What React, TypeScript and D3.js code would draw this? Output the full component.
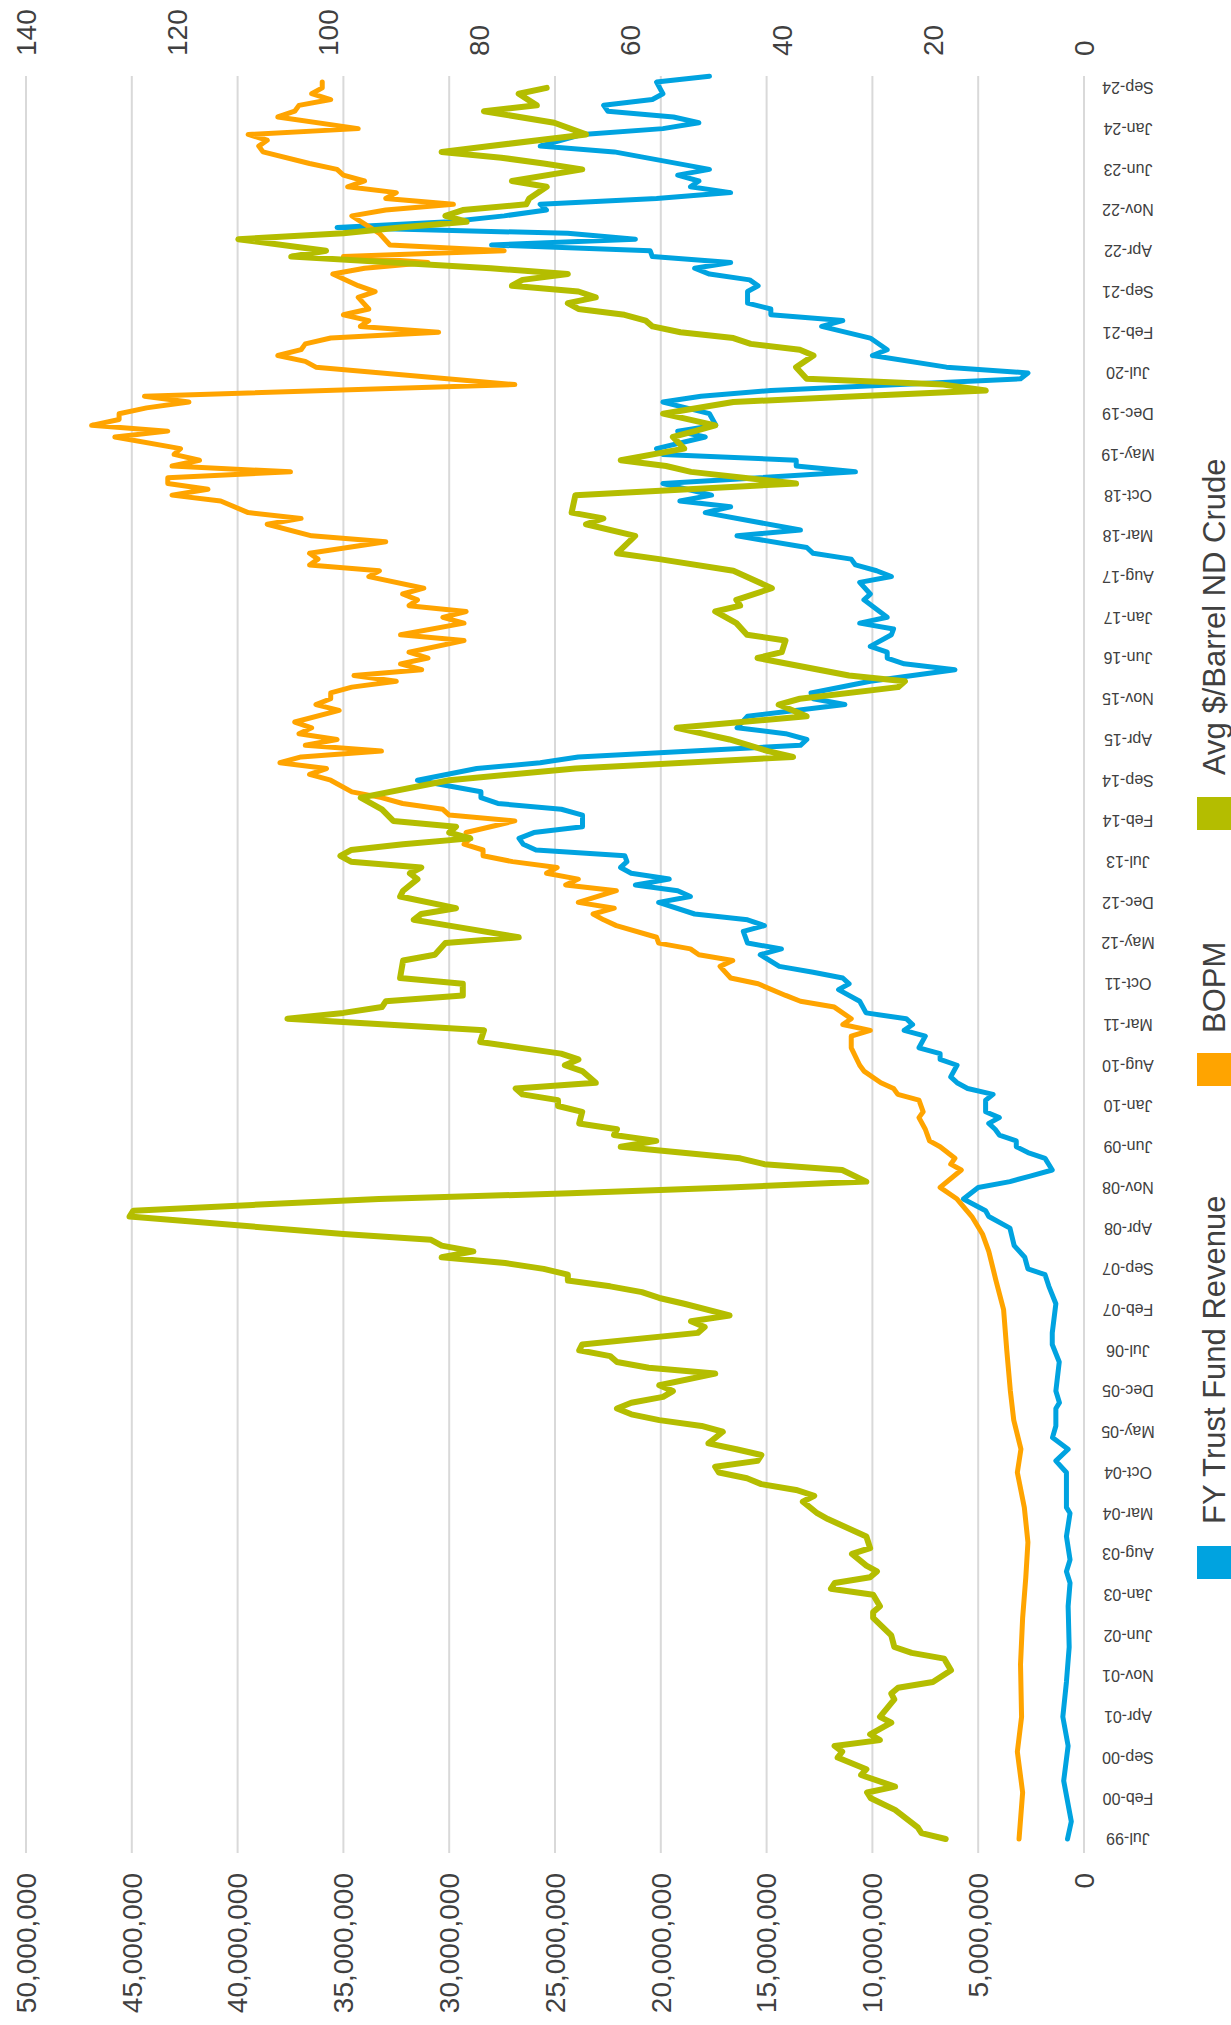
import React from "react";
import * as d3 from "d3";

// month labels shown on the (vertical) time axis, one every 7 months
const dateLabels = [
  "Jul-99", "Feb-00", "Sep-00", "Apr-01", "Nov-01", "Jun-02", "Jan-03", "Aug-03",
  "Mar-04", "Oct-04", "May-05", "Dec-05", "Jul-06", "Feb-07", "Sep-07", "Apr-08",
  "Nov-08", "Jun-09", "Jan-10", "Aug-10", "Mar-11", "Oct-11", "May-12", "Dec-12",
  "Jul-13", "Feb-14", "Sep-14", "Apr-15", "Nov-15", "Jun-16", "Jan-17", "Aug-17",
  "Mar-18", "Oct-18", "May-19", "Dec-19", "Jul-20", "Feb-21", "Sep-21", "Apr-22",
  "Nov-22", "Jun-23", "Jan-24", "Sep-24",
];
const labelEvery = 7;

// [month index from Jul-99, value in millions of $]
const revenueM: [number, number][] = [
  [0, 0.78], [3, 0.6], [10, 0.96], [16, 0.75], [21, 1.0], [27, 0.83], [33, 0.7], [40, 0.75],
  [44, 0.66], [46, 0.83], [48, 0.66], [52, 0.83], [56, 0.66], [57, 0.83], [63, 0.83], [65, 1.33],
  [67, 0.75], [69, 1.49], [71, 1.33], [74, 1.33], [75, 1.16], [77, 1.33], [82, 1.17], [85, 1.5],
  [87, 1.5], [92, 1.33], [95, 1.66], [97, 1.84], [98, 2.65], [100, 2.8], [102, 3.3], [105, 3.5],
  [107, 4.5], [108, 4.65], [110, 5.7], [112, 5.0], [113, 3.5], [114, 2.5], [115, 1.5], [117, 1.84],
  [118, 2.65], [119, 3.2], [120, 3.2], [121, 4.0], [122, 4.2], [123, 4.5], [124, 4.0], [125, 4.65],
  [127, 4.65], [128, 4.3], [129, 5.5], [130, 6.0], [131, 6.3], [133, 6.0], [134, 6.8], [135, 6.8],
  [136, 7.8], [138, 7.5], [139, 8.5], [140, 8.1], [141, 8.4], [142, 10.3], [144, 10.6], [146, 11.6],
  [147, 11.1], [148, 11.4], [149, 12.8], [150, 14.4], [152, 15.3], [153, 14.3], [154, 15.9], [156, 16.1],
  [157, 15.1], [158, 15.9], [159, 18.4], [161, 20.1], [162, 18.6], [163, 19.2], [164, 21.2], [165, 19.6],
  [166, 21.4], [167, 21.9], [168, 21.6], [169, 21.7], [170, 25.9], [171, 26.5], [172, 26.7], [173, 26.0],
  [174, 23.7], [176, 23.7], [177, 24.7], [178, 27.7], [179, 28.5], [180, 28.5], [182, 31.5], [184, 28.7],
  [185, 25.7], [186, 23.9], [188, 13.4], [189, 13.1], [190, 14.1], [191, 16.4], [193, 15.9], [195, 11.3],
  [196, 12.8], [197, 12.9], [199, 10.1], [201, 6.1], [202, 8.5], [203, 9.3], [204, 9.3], [205, 10.1],
  [207, 9.1], [208, 9.0], [209, 10.6], [210, 9.3], [213, 10.4], [214, 10.1], [216, 10.6], [217, 9.1],
  [218, 9.8], [219, 10.8], [220, 11.0], [221, 12.8], [222, 13.1], [224, 16.4], [225, 13.4], [228, 17.9],
  [229, 16.7], [230, 19.1], [231, 17.6], [233, 19.9], [235, 10.8], [236, 13.6], [237, 13.6], [238, 19.9],
  [239, 20.2], [241, 17.9], [242, 19.2], [243, 17.4], [245, 17.7], [247, 19.9], [248, 18.1], [249, 14.8],
  [251, 3.0], [252, 2.65], [253, 6.5], [255, 10.0], [256, 9.3], [258, 10.1], [260, 12.4], [261, 11.4],
  [262, 14.8], [263, 14.8], [264, 15.9], [266, 15.9], [267, 15.4], [268, 15.8], [269, 17.7], [270, 18.4],
  [271, 16.7], [272, 20.4], [273, 20.5], [274, 28.0], [275, 21.2], [276, 24.4], [277, 35.3], [278, 30.0],
  [279, 27.4], [280, 25.4], [281, 25.7], [282, 20.2], [283, 16.7], [284, 18.6], [285, 18.2], [286, 19.2],
  [287, 17.7], [290, 22.2], [291, 25.7], [293, 23.7], [294, 19.9], [295, 18.2], [296, 19.4], [297, 22.5],
  [298, 22.7], [299, 20.4], [300, 19.9], [302, 20.2], [303, 17.7],
];

// [month index, barrels per month in millions]
const bopmM: [number, number][] = [
  [0, 3.07], [8, 2.9], [15, 3.15], [21, 2.95], [30, 3.0], [38, 2.9], [45, 2.75], [51, 2.65],
  [57, 2.82], [63, 3.15], [67, 2.98], [72, 3.32], [77, 3.48], [84, 3.65], [91, 3.8], [96, 4.16],
  [101, 4.5], [104, 4.8], [107, 5.3], [110, 6.0], [112, 6.8], [115, 5.8], [116, 6.3], [117, 6.1],
  [119, 6.8], [120, 7.3], [122, 7.5], [124, 7.8], [125, 7.6], [127, 7.8], [128, 8.8], [129, 9.0],
  [130, 9.6], [132, 10.4], [133, 10.6], [136, 11.0], [138, 11.0], [139, 10.1], [140, 11.4], [141, 11.0],
  [143, 11.8], [144, 13.4], [145, 14.1], [147, 15.4], [148, 16.7], [150, 17.2], [151, 16.6], [152, 18.2],
  [153, 18.6], [154, 20.1], [155, 20.2], [157, 22.1], [158, 22.7], [159, 23.2], [160, 22.2], [161, 23.9],
  [163, 22.1], [164, 24.5], [165, 23.9], [166, 25.4], [167, 24.9], [168, 27.0], [169, 28.4], [170, 28.4],
  [171, 29.3], [172, 29.0], [173, 29.2], [175, 26.9], [176, 30.0], [177, 30.3], [178, 32.2], [179, 33.2],
  [180, 34.6], [182, 35.6], [183, 36.6], [184, 35.8], [185, 38.0], [186, 37.0], [187, 33.2], [188, 36.8],
  [189, 35.3], [190, 37.1], [191, 36.5], [192, 37.3], [194, 35.2], [195, 36.3], [196, 35.6], [197, 35.6],
  [198, 34.6], [199, 32.5], [200, 34.5], [201, 31.3], [202, 32.3], [203, 31.0], [204, 31.9], [206, 29.3],
  [207, 32.3], [209, 29.3], [210, 30.3], [211, 29.2], [212, 31.9], [213, 31.5], [214, 32.2], [215, 31.2],
  [217, 33.8], [218, 33.3], [219, 36.6], [220, 36.2], [221, 36.6], [223, 33.0], [224, 36.5], [226, 38.6],
  [227, 37.0], [228, 39.5], [230, 40.8], [231, 43.1], [232, 41.4], [233, 43.3], [234, 43.3], [235, 37.5],
  [236, 43.1], [237, 41.8], [238, 43.0], [239, 42.7], [241, 45.8], [242, 43.3], [243, 46.9], [244, 45.6],
  [245, 45.6], [246, 44.3], [247, 42.3], [248, 44.4], [250, 26.9], [253, 36.3], [254, 36.8], [255, 38.1],
  [256, 37.0], [257, 36.8], [258, 35.6], [259, 30.5], [260, 34.2], [261, 33.8], [262, 35.0], [263, 33.8],
  [265, 34.3], [266, 33.5], [267, 34.3], [269, 35.5], [270, 34.0], [271, 31.0], [272, 35.0], [273, 27.4],
  [274, 32.8], [276, 33.3], [279, 34.6], [280, 33.0], [281, 29.8], [282, 33.0], [283, 32.5], [284, 34.8],
  [285, 34.0], [286, 35.0], [287, 35.3], [288, 36.6], [290, 38.8], [291, 39.0], [292, 38.6], [293, 39.5],
  [294, 34.3], [296, 38.1], [297, 37.3], [298, 37.1], [299, 35.6], [300, 36.5], [301, 36.0], [302, 36.0],
];

// [month index, $ per barrel]
const crudePrice: [number, number][] = [
  [0, 18.3], [1, 21.5], [2, 22], [5, 25], [7, 28.2], [8, 28.7], [9, 25], [11, 29.5],
  [12, 28.8], [14, 32.6], [15, 32], [16, 33], [17, 27], [18, 28.3], [20, 25.5], [21, 27],
  [24, 25.1], [25, 25.5], [26, 24.6], [27, 20], [29, 17.6], [31, 18.5], [32, 22.8], [33, 25.1],
  [35, 25.5], [38, 27.9], [39, 27.9], [40, 27], [42, 27.9], [43, 33.5], [44, 33], [45, 28.3],
  [46, 27.4], [47, 28.8], [49, 30.7], [50, 28.3], [52, 28.8], [55, 33.9], [56, 35.3], [58, 37.2],
  [59, 35.7], [60, 38.1], [61, 42.7], [62, 44.6], [63, 48.3], [64, 48.8], [65, 43.2], [66, 42.7],
  [67, 46], [68, 49.7], [70, 47.8], [71, 50.6], [72, 56.2], [73, 59.9], [74, 61.8], [75, 59.9],
  [76, 55.7], [77, 54.4], [78, 56.2], [80, 48.8], [81, 57.6], [82, 61.8], [83, 62.7], [84, 66.8],
  [85, 66.4], [87, 51.1], [88, 50.2], [89, 52], [90, 46.9], [92, 52.9], [93, 56.2], [94, 58.5],
  [95, 62.7], [96, 68.3], [97, 68.3], [98, 71.5], [99, 76.6], [100, 85], [101, 80.8], [102, 85],
  [103, 86.4], [104, 98], [107, 126.3], [108, 125.8], [109, 110], [110, 93.3], [111, 68], [112, 46.9],
  [113, 28.8], [115, 32], [116, 42.3], [117, 45.5], [119, 61.3], [120, 56.6], [121, 62.2], [122, 61.8],
  [123, 66.8], [125, 66.4], [126, 69.6], [127, 69.6], [128, 74.3], [129, 75.2], [130, 64.6], [132, 66.4],
  [133, 68.7], [134, 66.9], [135, 69.2], [137, 79.9], [139, 79.4], [141, 105.4], [142, 98], [143, 92.9],
  [144, 92.4], [145, 82.2], [147, 82.2], [148, 90.5], [151, 90.1], [152, 85.9], [154, 84.5], [155, 74.8],
  [157, 84], [158, 88.7], [159, 87.7], [160, 83.1], [162, 90.5], [163, 90.1], [165, 88.2], [166, 89.2],
  [167, 87.7], [168, 97], [169, 98.4], [170, 97], [171, 90.1], [172, 81.2], [173, 84], [174, 83.1],
  [175, 91.4], [177, 92.9], [179, 95.7], [182, 84], [184, 67.3], [186, 38.5], [187, 41.8], [189, 46.9],
  [191, 53.9], [193, 36.7], [195, 40.4], [196, 37.6], [198, 24.6], [199, 23.7], [200, 31.1], [203, 43.2],
  [204, 40], [206, 39.5], [207, 44.6], [209, 46], [211, 48.8], [212, 45.5], [213, 46], [215, 41.3],
  [218, 46.4], [220, 56.2], [221, 61.8], [224, 59.4], [226, 65.9], [227, 63.6], [228, 67.8], [231, 67.3],
  [233, 38.1], [235, 52], [236, 55.3], [237, 61.3], [239, 52.9], [241, 54.4], [242, 51.5], [243, 48.8],
  [245, 55.7], [247, 46.4], [248, 30], [249, 13], [250, 18.6], [251, 36.7], [253, 38.1], [255, 35.8],
  [256, 37.6], [257, 44.1], [258, 46.4], [259, 53.4], [260, 57.1], [261, 58], [262, 60.8], [263, 66.9],
  [264, 68.3], [265, 64.6], [266, 66.9], [267, 75.7], [268, 74.3], [269, 68.3], [270, 78.5], [272, 104.9],
  [273, 100.3], [275, 111.9], [276, 98], [277, 90.5], [278, 81.7], [279, 84.5], [280, 82.2], [281, 73.8],
  [282, 73.4], [284, 71.1], [285, 75.7], [287, 66.4], [288, 71.5], [289, 77.1], [290, 85], [293, 65.9],
  [295, 70.1], [297, 79.4], [298, 72.4], [300, 74.8], [301, 71.1],
];

const primaryTicks = [0, 5e6, 10e6, 15e6, 20e6, 25e6, 30e6, 35e6, 40e6, 45e6, 50e6];
const secondaryTicks = [0, 20, 40, 60, 80, 100, 120, 140];

const seriesNames = ["FY Trust Fund Revenue", "BOPM", "Avg $/Barrel ND Crude"];
const seriesColors = ["#00A3E0", "#FFA400", "#B4BD00"];

const W = 1231;
const H = 2025;
// chart is laid out turned a quarter turn: values run right->left, time runs bottom->top
const plot = { left: 26, right: 1084, top: 76, bottom: 1853 };

export default function App() {
  const timeY = d3.scaleLinear().domain([0, 301]).range([1839, 87.9]);
  const xPrim = d3.scaleLinear().domain([0, 50e6]).range([plot.right, plot.left]);
  const xSec = d3.scaleLinear().domain([0, 140]).range([plot.right, plot.left]);

  const primLine = d3
    .line<[number, number]>()
    .x((d) => xPrim(d[1] * 1e6))
    .y((d) => timeY(d[0]));
  const secLine = d3
    .line<[number, number]>()
    .x((d) => xSec(d[1]))
    .y((d) => timeY(d[0]));

  const fmt = d3.format(",");
  const font = "'Liberation Sans', Arial, sans-serif";

  // legend: square + label per series, stacked bottom to top
  const legendSquares = [1546, 1053, 797];
  const legendText = [1524, 1033, 775];

  return (
    <svg
      width={W}
      height={H}
      style={{ position: "absolute", left: 0, top: 0, background: "#fff" }}
      fontFamily={font}
    >
      <rect width={W} height={H} fill="#fff" />

      {primaryTicks.map((v) => (
        <line
          key={"g" + v}
          x1={xPrim(v)}
          x2={xPrim(v)}
          y1={plot.top}
          y2={plot.bottom}
          stroke="#d9d9d9"
          strokeWidth={2}
        />
      ))}

      {primaryTicks.map((v) => (
        <text
          key={"p" + v}
          transform={`translate(${xPrim(v)},1873) rotate(-90)`}
          dy="0.35em"
          textAnchor="end"
          fontSize={28}
          fill="#404040"
        >
          {fmt(v)}
        </text>
      ))}

      {secondaryTicks.map((v) => (
        <text
          key={"s" + v}
          transform={`translate(${xSec(v)},56) rotate(-90)`}
          dy="0.35em"
          textAnchor="start"
          fontSize={28}
          fill="#404040"
        >
          {v}
        </text>
      ))}

      {dateLabels.map((lab, k) => (
        <text
          key={lab}
          transform={`translate(1128,${timeY(k * labelEvery)}) rotate(180)`}
          dy="0.35em"
          textAnchor="middle"
          fontSize={16}
          fill="#404040"
        >
          {lab}
        </text>
      ))}

      <path
        d={primLine(revenueM) || ""}
        fill="none"
        stroke={seriesColors[0]}
        strokeWidth={5}
        strokeLinejoin="round"
        strokeLinecap="round"
      />
      <path
        d={primLine(bopmM) || ""}
        fill="none"
        stroke={seriesColors[1]}
        strokeWidth={5}
        strokeLinejoin="round"
        strokeLinecap="round"
      />
      <path
        d={secLine(crudePrice) || ""}
        fill="none"
        stroke={seriesColors[2]}
        strokeWidth={6}
        strokeLinejoin="round"
        strokeLinecap="round"
      />

      {seriesNames.map((name, k) => (
        <g key={name}>
          <rect x={1197} y={legendSquares[k]} width={34} height={33} fill={seriesColors[k]} />
          <text
            transform={`translate(1225,${legendText[k]}) rotate(-90)`}
            textAnchor="start"
            fontSize={31}
            fill="#404040"
          >
            {name}
          </text>
        </g>
      ))}
    </svg>
  );
}
